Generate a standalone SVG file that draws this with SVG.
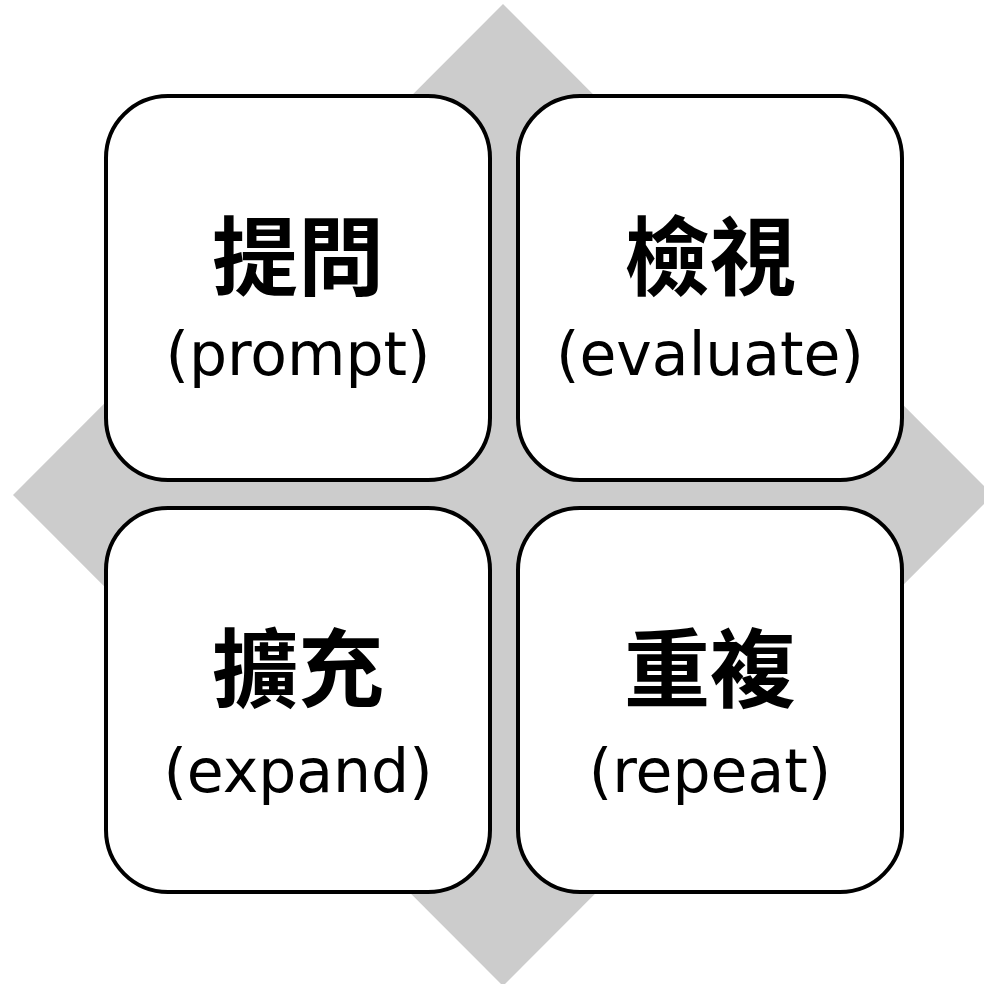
<svg xmlns="http://www.w3.org/2000/svg" width="984" height="984" viewBox="0 0 984 984">
<style>
.box{fill:#ffffff;stroke:#000000;stroke-width:4}
.cjk{font-family:"Noto Sans CJK TC","Noto Sans CJK SC",sans-serif;font-weight:bold;font-size:86px;fill:#000000;text-anchor:middle}
.en{font-family:"DejaVu Sans",sans-serif;font-size:60px;fill:#000000;text-anchor:middle}
</style>
<rect width="984" height="984" fill="#ffffff"/>
<polygon id="diamond" points="503,4 993,495 503,986 13,495" fill="#cccccc"/>
<g id="connectors"></g>
<g id="prompt">
<rect class="box" x="106" y="96" width="384" height="384" rx="62" ry="62"/>
<text class="cjk" x="298" y="289">提問</text>
<text class="en" x="298" y="375">(prompt)</text>
</g>
<g id="evaluate">
<rect class="box" x="518" y="96" width="384" height="384" rx="62" ry="62"/>
<text class="cjk" x="710" y="289">檢視</text>
<text class="en" x="710" y="375">(evaluate)</text>
</g>
<g id="expand">
<rect class="box" x="106" y="508" width="384" height="384" rx="62" ry="62"/>
<text class="cjk" x="298" y="701">擴充</text>
<text class="en" x="298" y="792">(expand)</text>
</g>
<g id="repeat">
<rect class="box" x="518" y="508" width="384" height="384" rx="62" ry="62"/>
<text class="cjk" x="710" y="701">重複</text>
<text class="en" x="710" y="792">(repeat)</text>
</g>
</svg>
